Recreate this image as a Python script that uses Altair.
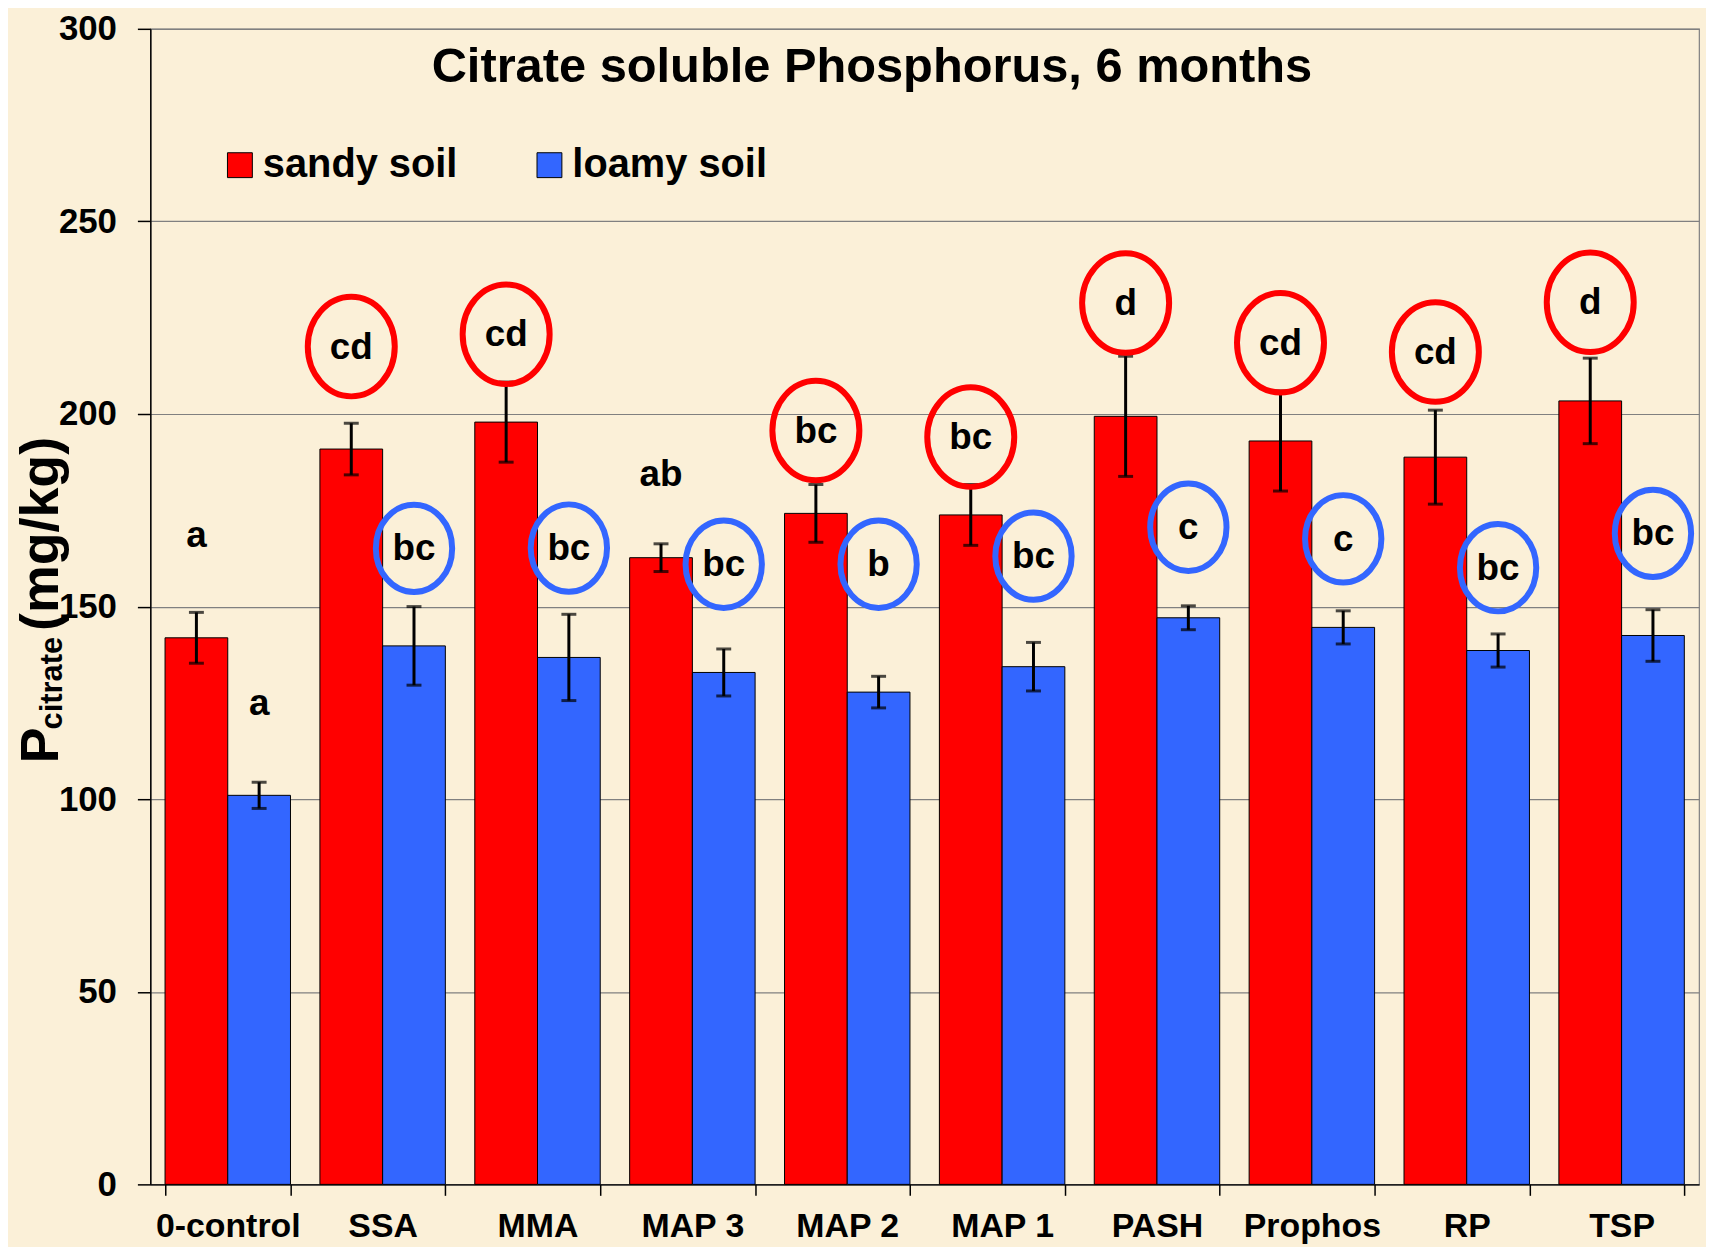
import altair as alt
import pandas as pd

categories = ["0-control", "SSA", "MMA", "MAP 3", "MAP 2", "MAP 1", "PASH", "Prophos", "RP", "TSP"]
soils = ["sandy soil", "loamy soil"]

sandy = [141.9, 190.9, 197.9, 162.7, 174.2, 173.8, 199.4, 193.0, 188.8, 203.4]
sandy_err = [6.6, 6.7, 10.4, 3.6, 7.5, 7.9, 15.6, 13.0, 12.2, 11.1]
loamy = [101.0, 139.8, 136.8, 132.9, 127.8, 134.4, 147.1, 144.6, 138.6, 142.5]
loamy_err = [3.4, 10.2, 11.2, 6.1, 4.1, 6.3, 3.1, 4.3, 4.3, 6.7]

sandy_letters = ["a", "cd", "cd", "ab", "bc", "bc", "d", "cd", "cd", "d"]
sandy_circled = [False, True, True, False, True, True, True, True, True, True]
sandy_letter_y = [168.5, 217.5, 220.7, 184.5, 195.7, 194.0, 228.8, 218.5, 216.1, 229.0]
loamy_letters = ["a", "bc", "bc", "bc", "b", "bc", "c", "c", "bc", "bc"]
loamy_circled = [False, True, True, True, True, True, True, True, True, True]
loamy_letter_y = [125.0, 165.1, 165.2, 161.0, 161.0, 163.1, 170.6, 167.6, 160.1, 169.0]

y_ticks = [0, 50, 100, 150, 200, 250, 300]
title_text = "Citrate soluble Phosphorus, 6 months"

rows = []
for i, c in enumerate(categories):
    rows.append(dict(cat=c, soil="sandy soil", value=sandy[i], err=sandy_err[i],
                     letter=sandy_letters[i], ly=sandy_letter_y[i], circled=sandy_circled[i]))
    rows.append(dict(cat=c, soil="loamy soil", value=loamy[i], err=loamy_err[i],
                     letter=loamy_letters[i], ly=loamy_letter_y[i], circled=loamy_circled[i]))
df = pd.DataFrame(rows)
df["lo"] = df["value"] - df["err"]
df["hi"] = df["value"] + df["err"]

FONT = "Liberation Sans, Arial, sans-serif"
RED = "#FF0000"
BLUE = "#3366FF"

xenc = alt.X("cat:N", sort=categories, title=None,
             scale=alt.Scale(paddingInner=0.19, paddingOuter=0.095))
xoff = alt.XOffset("soil:N", sort=soils,
                   scale=alt.Scale(domain=soils, paddingInner=0, paddingOuter=0))
yscale = alt.Scale(domain=[0, 300], nice=False, zero=True)
yaxis = alt.Axis(values=y_ticks, title=None)


def yenc(field):
    return alt.Y(field, scale=yscale, axis=yaxis, title=None)


base = alt.Chart(df)

bars = base.mark_bar(stroke="black", strokeWidth=1).encode(
    x=xenc, xOffset=xoff,
    y=yenc("value:Q"),
    color=alt.Color("soil:N", sort=soils,
                    scale=alt.Scale(domain=soils, range=[RED, BLUE]),
                    legend=alt.Legend(
                        title=None, orient="none", legendX=70, legendY=117,
                        direction="horizontal", columns=2, columnPadding=72,
                        symbolType="square", symbolSize=625, symbolStrokeColor="black",
                        symbolStrokeWidth=1, symbolOpacity=1,
                        labelFont=FONT, labelFontSize=40, labelFontWeight="bold",
                        labelColor="black", labelOffset=3, labelLimit=500, padding=0)),
)

rules = base.mark_rule(color="black", strokeWidth=3).encode(
    x=xenc, xOffset=xoff,
    y=yenc("lo:Q"), y2="hi:Q",
)
caps_lo = base.mark_tick(color="black", orient="horizontal", size=15, thickness=3).encode(
    x=xenc, xOffset=xoff, y=yenc("lo:Q"),
)
caps_hi = base.mark_tick(color="black", orient="horizontal", size=15, thickness=3).encode(
    x=xenc, xOffset=xoff, y=yenc("hi:Q"),
)

ELLIPSE = ("M 0.874 0 C 0.874 0.5523 0.4827 1 0 1 C -0.4827 1 -0.874 0.5523 -0.874 0 "
           "C -0.874 -0.5523 -0.4827 -1 0 -1 C 0.4827 -1 0.874 -0.5523 0.874 0 Z")

ellipses = base.transform_filter("datum.circled").mark_point(
    shape=ELLIPSE, filled=False, strokeWidth=6, opacity=1
).encode(
    x=xenc, xOffset=xoff,
    y=yenc("ly:Q"),
    stroke=alt.Stroke("soil:N", scale=alt.Scale(domain=soils, range=[RED, BLUE]), legend=None),
    size=alt.Size("soil:N", scale=alt.Scale(domain=soils, range=[10000, 7700]), legend=None),
)

letters = base.mark_text(font=FONT, fontSize=37, fontWeight="bold", color="black",
                         baseline="middle", align="center", dy=1).encode(
    x=xenc, xOffset=xoff,
    y=yenc("ly:Q"),
    text="letter:N",
)

title_layer = alt.Chart(pd.DataFrame({"t": [title_text]})).mark_text(
    font=FONT, fontSize=49, fontWeight="bold", color="black",
    align="center", baseline="alphabetic"
).encode(text="t:N", x=alt.value(725), y=alt.value(53))

ytitle_p = alt.Chart(pd.DataFrame({"t": ["P"]})).mark_text(
    font=FONT, fontSize=54, fontWeight="bold", color="black",
    align="left", baseline="alphabetic", angle=270
).encode(text="t:N", x=alt.value(-93), y=alt.value(738))
ytitle_sub = alt.Chart(pd.DataFrame({"t": ["citrate"]})).mark_text(
    font=FONT, fontSize=31, fontWeight="bold", color="black",
    align="left", baseline="alphabetic", angle=270
).encode(text="t:N", x=alt.value(-89), y=alt.value(704))
ytitle_unit = alt.Chart(pd.DataFrame({"t": ["(mg/kg)"]})).mark_text(
    font=FONT, fontSize=54, fontWeight="bold", color="black",
    align="left", baseline="alphabetic", angle=270
).encode(text="t:N", x=alt.value(-93), y=alt.value(605))

chart = alt.layer(
    bars, rules, caps_lo, caps_hi, ellipses, letters,
    title_layer, ytitle_p, ytitle_sub, ytitle_unit
).resolve_scale(
    stroke="independent", size="independent"
).properties(
    width=1556, height=1161,
    autosize=alt.AutoSizeParams(type="none"),
    padding={"left": 143, "top": 18, "right": 7, "bottom": 60},
    background="#FBF0D8",
).configure_view(
    stroke="#7f7f7f", strokeWidth=1.2, fill="#FBF0D8"
).configure_axisY(
    grid=True, gridColor="#808080", gridWidth=1.2,
    domainColor="black", domainWidth=1.5,
    tickColor="black", tickSize=13, tickWidth=1.5,
    labelFont=FONT, labelFontSize=35, labelFontWeight="bold", labelColor="black",
    labelPadding=21,
).configure_axisX(
    grid=False, labelAngle=0, tickBand="extent",
    domainColor="black", domainWidth=1.5,
    tickColor="black", tickSize=11, tickWidth=1.5,
    labelFont=FONT, labelFontSize=34, labelFontWeight="bold",
    labelColor="black", labelPadding=14,
)

chart.save("out.html", embed_options={"renderer": "svg", "actions": False})
